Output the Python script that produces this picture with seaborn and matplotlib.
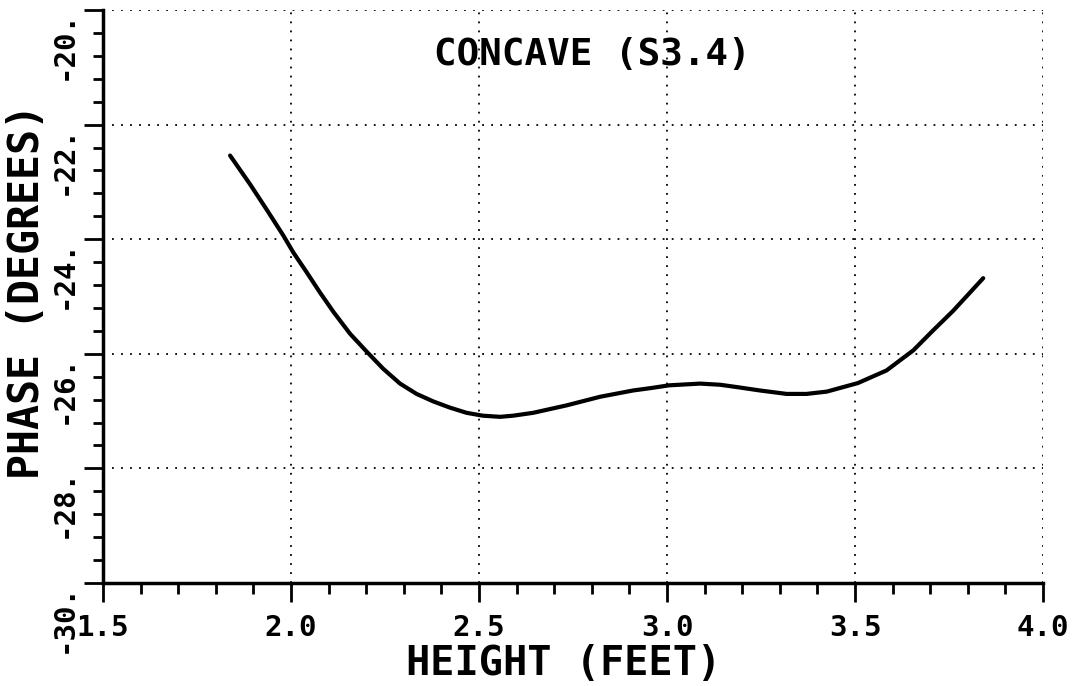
import matplotlib
matplotlib.use("Agg")
import matplotlib.pyplot as plt
from matplotlib.ticker import MultipleLocator
import seaborn as sns
import pandas as pd

# curve
height_ft = [1.838, 1.891, 1.935, 1.980, 2.006, 2.042, 2.077, 2.113, 2.157, 2.201,
             2.245, 2.290, 2.334, 2.378, 2.423, 2.467, 2.510, 2.556, 2.591, 2.644,
             2.733, 2.822, 2.910, 2.955, 3.006, 3.088, 3.141, 3.185, 3.247, 3.318,
             3.371, 3.425, 3.508, 3.584, 3.655, 3.708, 3.761, 3.806, 3.841]
phase_deg = [-22.54, -23.04, -23.48, -23.94, -24.23, -24.58, -24.93, -25.27, -25.65, -25.96,
             -26.26, -26.52, -26.70, -26.83, -26.94, -27.03, -27.08, -27.10, -27.08, -27.03,
             -26.90, -26.75, -26.64, -26.60, -26.55, -26.52, -26.54, -26.58, -26.64, -26.70,
             -26.70, -26.66, -26.51, -26.29, -25.94, -25.59, -25.25, -24.93, -24.68]

x_ticks = [1.5, 2.0, 2.5, 3.0, 3.5, 4.0]
x_tick_labels = ["1.5", "2.0", "2.5", "3.0", "3.5", "4.0"]
y_ticks = [-30, -28, -26, -24, -22, -20]
y_tick_labels = ["-30.", "-28.", "-26.", "-24.", "-22.", "-20."]

title_text = "CONCAVE (S3.4)"
x_label = "HEIGHT (FEET)"
y_label = "PHASE (DEGREES)"

df = pd.DataFrame({"height": height_ft, "phase": phase_deg})

sns.set_style("ticks")
plt.rcParams["font.family"] = ["DejaVu Sans Mono", "DejaVu Sans"]
plt.rcParams["font.weight"] = "bold"

fig, ax = plt.subplots(figsize=(10.75, 6.86), dpi=100)
fig.subplots_adjust(left=103 / 1075, right=1043 / 1075, bottom=1 - 583 / 686, top=1 - 10 / 686)

sns.lineplot(data=df, x="height", y="phase", color="black", linewidth=3, ax=ax)

ax.set_xlim(1.5, 4.0)
ax.set_ylim(-30, -20)
ax.set_xticks(x_ticks)
ax.set_xticklabels(x_tick_labels, fontsize=21, fontweight="bold")
ax.set_yticks(y_ticks)
ax.set_yticklabels(y_tick_labels, fontsize=21, fontweight="bold", rotation=90, va="top", ha="right")
ax.xaxis.set_minor_locator(MultipleLocator(0.1))
ax.yaxis.set_minor_locator(MultipleLocator(0.4))

ax.tick_params(axis="x", which="major", direction="out", length=14, width=2, pad=8, colors="black")
ax.tick_params(axis="x", which="minor", direction="out", length=8, width=2, colors="black")
ax.tick_params(axis="y", which="major", direction="out", length=14, width=2, pad=4, colors="black")
ax.tick_params(axis="y", which="minor", direction="out", length=7, width=2, colors="black")

ax.grid(True, which="major", color="black", linewidth=1.3, linestyle=(0, (1, 4)))

for side in ["top", "right"]:
    ax.spines[side].set_visible(False)
for side in ["left", "bottom"]:
    ax.spines[side].set_linewidth(2.5)
    ax.spines[side].set_color("black")

ax.set_xlabel(x_label, fontsize=29, fontweight="bold", color="black")
ax.set_ylabel(y_label, fontsize=30, fontweight="bold", color="black")
ax.xaxis.label.set_va("center")
ax.yaxis.label.set_va("center")
ax.xaxis.set_label_coords(0.49, -0.141)
ax.yaxis.set_label_coords(-0.081, 0.508)

ax.text(0.521, 0.921, title_text, transform=ax.transAxes, fontsize=27, fontweight="bold",
        ha="center", va="center", color="black")

fig.savefig("out.png", dpi=100)
